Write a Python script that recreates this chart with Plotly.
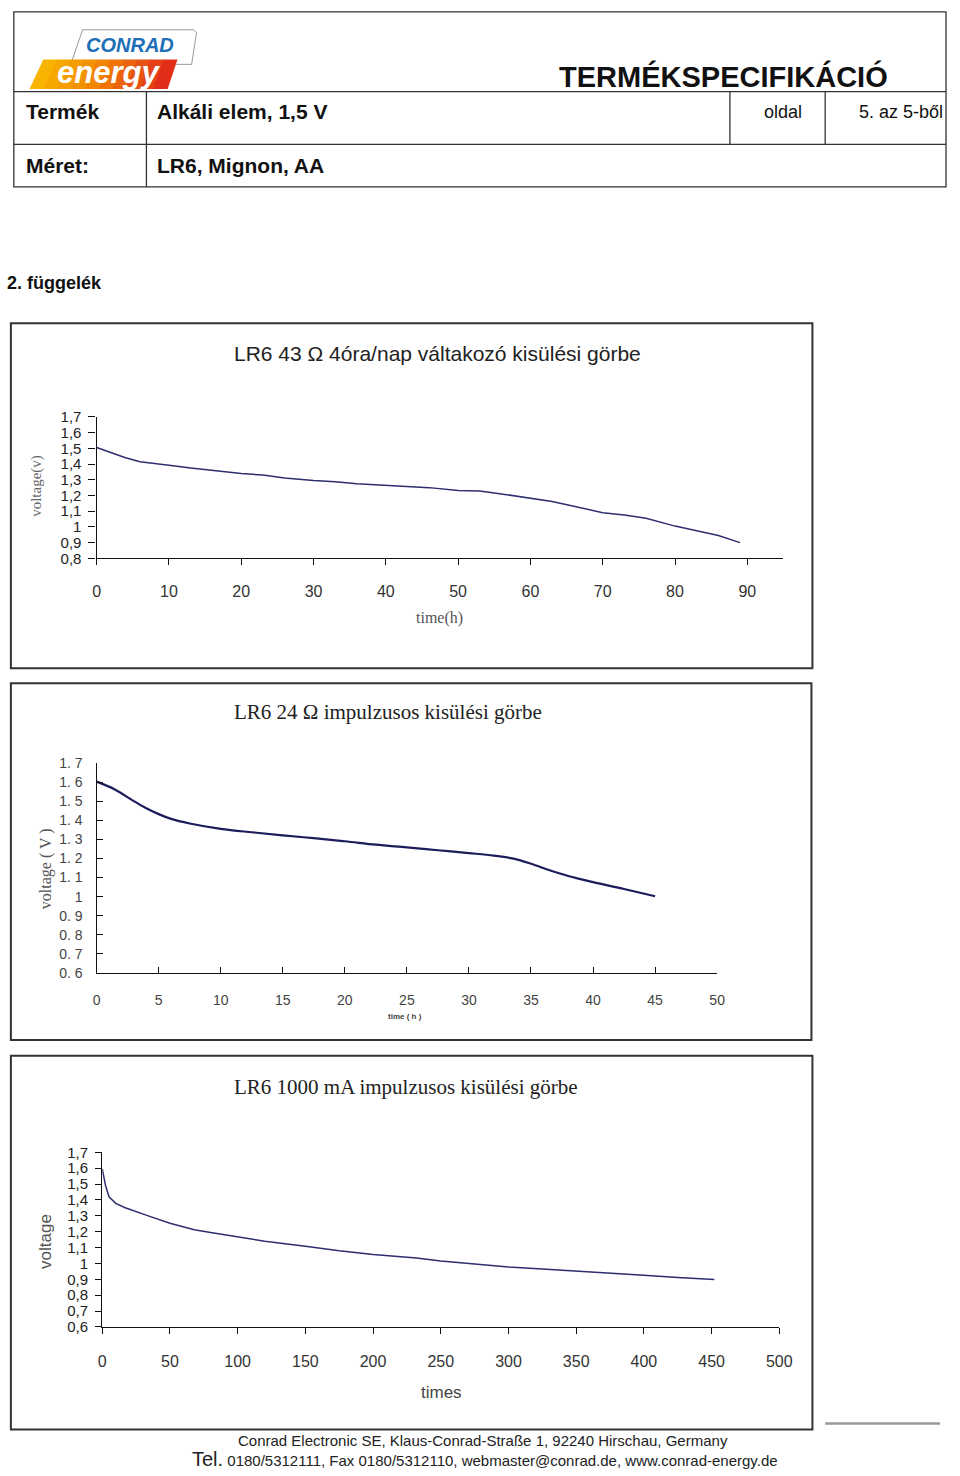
import plotly.graph_objects as go

W, H = 960, 1476


def X(px):
    return px / W


def Y(py):
    return 1 - py / H


# ---------------- data ----------------
# Chart 1: LR6 43 ohm 4h/day
t1 = [0, 2, 4, 6, 8, 10, 13, 16, 20, 23, 26, 30, 33, 36, 40, 43, 46, 50,
      53, 56, 60, 63, 66, 70, 73, 76, 80, 83, 86, 89]
v1 = [1.505, 1.47, 1.44, 1.415, 1.405, 1.392, 1.375, 1.36, 1.34, 1.33, 1.312,
      1.295, 1.288, 1.275, 1.265, 1.256, 1.25, 1.232, 1.228, 1.21, 1.18, 1.162,
      1.132, 1.09, 1.075, 1.055, 1.005, 0.975, 0.945, 0.9]
x1_ticks = [0, 10, 20, 30, 40, 50, 60, 70, 80, 90]
y1_ticks = [0.8, 0.9, 1.0, 1.1, 1.2, 1.3, 1.4, 1.5, 1.6, 1.7]
y1_text = ["0,8", "0,9", "1", "1,1", "1,2", "1,3", "1,4", "1,5", "1,6", "1,7"]

# Chart 2: LR6 24 ohm pulse
t2 = [0, 1.5, 3, 4, 5, 6, 7.5, 10, 12.5, 15, 17.5, 20, 22.5, 25, 27.5, 30,
      32, 33.5, 35, 36.5, 38, 40, 42.5, 45]
v2 = [1.602, 1.56, 1.5, 1.463, 1.432, 1.407, 1.383, 1.355, 1.337, 1.321,
      1.306, 1.29, 1.272, 1.258, 1.243, 1.228, 1.215, 1.2, 1.172, 1.138, 1.108,
      1.076, 1.04, 1.002]
x2_ticks = [0, 5, 10, 15, 20, 25, 30, 35, 40, 45, 50]
y2_ticks = [0.6, 0.7, 0.8, 0.9, 1.0, 1.1, 1.2, 1.3, 1.4, 1.5, 1.6, 1.7]
y2_text = ["0. 6", "0. 7", "0. 8", "0. 9", "1", "1. 1", "1. 2", "1. 3",
           "1. 4", "1. 5", "1. 6", "1. 7"]

# Chart 3: LR6 1000 mA pulse
t3 = [0, 2.4, 5, 10, 17, 25, 34, 50, 68, 80, 100, 120, 150, 175, 200, 232,
      250, 275, 300, 325, 350, 375, 400, 425, 450, 452]
v3 = [1.596, 1.493, 1.42, 1.379, 1.351, 1.325, 1.30, 1.254, 1.212, 1.195,
      1.167, 1.14, 1.109, 1.08, 1.057, 1.034, 1.015, 0.995, 0.978, 0.965,
      0.953, 0.94, 0.926, 0.912, 0.899, 0.899]
x3_ticks = [0, 50, 100, 150, 200, 250, 300, 350, 400, 450, 500]
y3_ticks = [0.6, 0.7, 0.8, 0.9, 1.0, 1.1, 1.2, 1.3, 1.4, 1.5, 1.6, 1.7]
y3_text = ["0,6", "0,7", "0,8", "0,9", "1", "1,1", "1,2", "1,3", "1,4",
           "1,5", "1,6", "1,7"]

SANS = "Liberation Sans, Arial, sans-serif"
SERIF = "Liberation Serif, Times New Roman, serif"

fig = go.Figure()
fig.add_trace(go.Scatter(x=t1, y=v1, mode="lines", xaxis="x", yaxis="y",
                         line=dict(color="#2e2e70", width=1.5),
                         hoverinfo="skip", showlegend=False))
fig.add_trace(go.Scatter(x=t2, y=v2, mode="lines", xaxis="x2", yaxis="y2",
                         line=dict(color="#1c1c5c", width=2.2, shape="spline"),
                         hoverinfo="skip", showlegend=False))
fig.add_trace(go.Scatter(x=t3, y=v3, mode="lines", xaxis="x3", yaxis="y3",
                         line=dict(color="#2e2e70", width=1.5),
                         hoverinfo="skip", showlegend=False))

base = dict(showgrid=False, zeroline=False, showline=True, linecolor="#111",
            linewidth=1.4, tickcolor="#111", tickwidth=1.4)
over = dict(showgrid=False, zeroline=False, showline=False, showticklabels=False,
            tickcolor="#111", tickwidth=1.4, ticks="inside")

layout = dict(
    width=W, height=H, autosize=False,
    margin=dict(l=0, r=0, t=0, b=0),
    paper_bgcolor="white", plot_bgcolor="rgba(0,0,0,0)",
    showlegend=False,
    # chart 1
    xaxis=dict(domain=[X(94.3), X(94.3 + 95 * 7.36)], range=[0, 95], anchor="y",
               tickvals=x1_ticks, ticks="outside", ticklen=6,
               tickfont=dict(family=SANS, size=16, color="#333"),
               ticklabelstandoff=12, **base),
    yaxis=dict(domain=[Y(555.7), Y(412.7)], range=[0.8, 1.7], anchor="x",
               tickvals=y1_ticks, ticktext=y1_text, ticks="outside", ticklen=7,
               tickfont=dict(family=SANS, size=15, color="#222"),
               ticklabelstandoff=4, **base),
    xaxis4=dict(overlaying="x", anchor="y", range=[0, 95], tickvals=x1_ticks,
                ticklen=6, **over),
    yaxis4=dict(overlaying="y", anchor="x", range=[0.8, 1.7], tickvals=y1_ticks,
                ticklen=7, **over),
    # chart 2
    xaxis2=dict(domain=[X(94.3), X(726)], range=[0, 50], anchor="y2",
                tickvals=x2_ticks, ticks="inside", ticklen=6,
                tickfont=dict(family=SANS, size=14, color="#444"),
                ticklabelstandoff=14, **base),
    yaxis2=dict(domain=[Y(975.3), Y(762.7)], range=[0.6, 1.7], anchor="x2",
                tickvals=y2_ticks, ticktext=y2_text, ticks="inside", ticklen=6,
                tickfont=dict(family=SANS, size=14, color="#444"),
                ticklabelstandoff=10, **base),
    # chart 3
    xaxis3=dict(domain=[X(100), X(789.3)], range=[0, 500], anchor="y3",
                tickvals=x3_ticks, ticks="outside", ticklen=6,
                tickfont=dict(family=SANS, size=16, color="#333"),
                ticklabelstandoff=14, **base),
    yaxis3=dict(domain=[Y(1333.3), Y(1156.7)], range=[0.6, 1.7], anchor="x3",
                tickvals=y3_ticks, ticktext=y3_text, ticks="outside", ticklen=6,
                tickfont=dict(family=SANS, size=15, color="#222"),
                ticklabelstandoff=4, **base),
    xaxis5=dict(overlaying="x3", anchor="y3", range=[0, 500], tickvals=x3_ticks,
                ticklen=6, **over),
    yaxis5=dict(overlaying="y3", anchor="x3", range=[0.6, 1.7], tickvals=y3_ticks,
                ticklen=6, **over),
)
fig.update_layout(**layout)

shapes = []
LC = "#333"


def line(x0, y0, x1, y1, color=LC, width=1.3):
    shapes.append(dict(type="line", xref="paper", yref="paper",
                       x0=X(x0), y0=Y(y0), x1=X(x1), y1=Y(y1),
                       line=dict(color=color, width=width)))


def rect(x0, y0, x1, y1, color="#333", width=2):
    shapes.append(dict(type="rect", xref="paper", yref="paper",
                       x0=X(x0), y0=Y(y0), x1=X(x1), y1=Y(y1),
                       line=dict(color=color, width=width), fillcolor="rgba(0,0,0,0)"))


def poly(pts, fill, color=None, width=0):
    p = "M " + " L ".join(f"{X(a):.5f},{Y(b):.5f}" for a, b in pts) + " Z"
    shapes.append(dict(type="path", xref="paper", yref="paper", path=p,
                       fillcolor=fill,
                       line=dict(color=color or fill, width=width)))


# header table
rect(10, 3, 959, 180, width=1.3)
line(10, 83.5, 959, 83.5)
line(10, 137, 959, 137)
line(145, 83.5, 145, 180)
line(739, 83.5, 739, 137)
line(836, 83.5, 836, 137)

# logo: white card + orange gradient band
poly([(80, 21), (193, 21), (196, 24), (191, 56), (68, 56)], "white", "#9a9a9a", 1)
band_top, band_bot = 51, 81
lt, lb, rt, rb = 40, 26, 176, 166
cols = ["#f8b400", "#f7a800", "#f59d00", "#f39200", "#f18400", "#ee7405",
        "#eb630c", "#e85212", "#e54016", "#e22e19"]
n = len(cols)
for i, c in enumerate(cols):
    a0, a1 = i / n, (i + 1) / n
    poly([(lt + (rt - lt) * a0, band_top), (lt + (rt - lt) * a1 + 0.6, band_top),
          (lb + (rb - lb) * a1 + 0.6, band_bot), (lb + (rb - lb) * a0, band_bot)], c)

# chart boxes
rect(7, 318, 823, 667)
rect(7, 682, 822, 1043)
rect(7, 1059, 823, 1437)
# footer grey line
line(836, 1431, 953, 1431, color="#999", width=2.5)

fig.update_layout(shapes=shapes)

ann = []


def text(s, x, y, size, family=SANS, color="#111", xanchor="left", bold=False,
         italic=False, angle=0):
    if bold:
        s = f"<b>{s}</b>"
    if italic:
        s = f"<i>{s}</i>"
    ann.append(dict(text=s, x=X(x), y=Y(y), xref="paper", yref="paper",
                    xanchor=xanchor, yanchor="middle", showarrow=False,
                    textangle=angle,
                    font=dict(family=family, size=size, color=color)))


# logo text
text("CONRAD", 128, 36, 20, color="#1d6fb7", xanchor="center", bold=True, italic=True)
text("energy", 106, 64, 31, color="white", xanchor="center", bold=True, italic=True)

# header texts
text("TERMÉKSPECIFIKÁCIÓ", 563, 68, 29, bold=True)
text("Termék", 20, 104, 21, bold=True)
text("Alkáli elem, 1,5 V", 154, 104, 21, bold=True)
text("oldal", 772, 104, 18)
text("5. az 5-ből", 868, 104, 18)
text("Méret:", 20, 158, 21, bold=True)
text("LR6, Mignon, AA", 154, 158, 21, bold=True)
text("2. függelék", 1, 277, 18, bold=True)

# chart titles
text("LR6 43 Ω 4óra/nap váltakozó kisülési görbe", 232, 349, 21, color="#222")
text("LR6 24 Ω impulzusos kisülési görbe", 232, 711, 21, family=SERIF, color="#222")
text("LR6 1000 mA impulzusos kisülési görbe", 232, 1091, 21, family=SERIF, color="#222")

# axis titles
text("voltage(v)", 33, 482, 15, family=SERIF, color="#666", xanchor="center", angle=-90)
text("time(h)", 443, 616, 16, family=SERIF, color="#555", xanchor="center")
text("voltage ( V )", 43, 870, 16, family=SERIF, color="#555", xanchor="center", angle=-90)
text("time ( h )", 408, 1019, 8, color="#444", xanchor="center", bold=True)
text("voltage", 42, 1247, 17, color="#555", xanchor="center", angle=-90)
text("times", 445, 1400, 17, color="#444", xanchor="center")

# footer
text("Conrad Electronic SE, Klaus-Conrad-Straße 1, 92240 Hirschau, Germany",
     488, 1448, 15, color="#222", xanchor="center")
text("<span style='font-size:20px'>Tel.</span> 0180/5312111, Fax 0180/5312110, "
     "webmaster@conrad.de, www.conrad-energy.de", 189, 1467, 15, color="#222")

fig.update_layout(annotations=ann)

fig.write_html(
    "out.html",
    config={"displayModeBar": False},
    post_script=(
        "document.documentElement.style.margin='0';"
        "document.body.style.margin='0';"
        "document.body.style.overflow='hidden';"
    ),
)
